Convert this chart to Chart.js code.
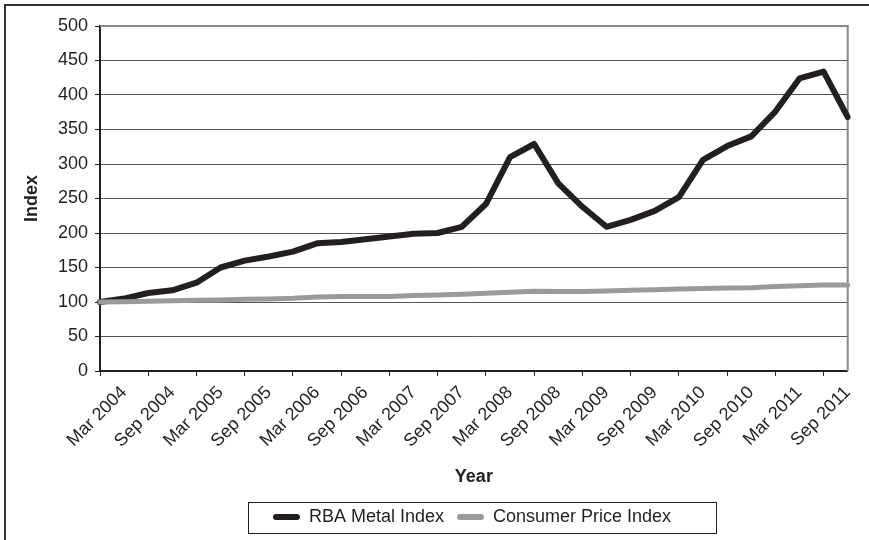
<!DOCTYPE html>
<html>
<head>
<meta charset="utf-8">
<script src="https://cdn.jsdelivr.net/npm/chart.js@4.4.1/dist/chart.umd.min.js"></script>
<style>
  html, body { margin: 0; padding: 0; background: #fff; }
  #wrap { width: 869px; height: 540px; }
</style>
</head>
<body>
<div id="wrap"><canvas id="chart" width="869" height="540"></canvas></div>
<script>
// Quarterly categories, Mar 2004 .. Dec 2011
const quarters = [
  'Mar 2004', 'Jun 2004', 'Sep 2004', 'Dec 2004',
  'Mar 2005', 'Jun 2005', 'Sep 2005', 'Dec 2005',
  'Mar 2006', 'Jun 2006', 'Sep 2006', 'Dec 2006',
  'Mar 2007', 'Jun 2007', 'Sep 2007', 'Dec 2007',
  'Mar 2008', 'Jun 2008', 'Sep 2008', 'Dec 2008',
  'Mar 2009', 'Jun 2009', 'Sep 2009', 'Dec 2009',
  'Mar 2010', 'Jun 2010', 'Sep 2010', 'Dec 2010',
  'Mar 2011', 'Jun 2011', 'Sep 2011', 'Dec 2011',
];

const rbaMetal = [
  100, 105, 113, 117, 128, 150, 160, 166,
  173, 185, 187, 191, 195, 199, 200, 209,
  242, 310, 329, 272, 238, 209, 219, 232,
  252, 306, 326, 340, 376, 424, 434, 368,
];

const cpi = [
  100, 100.5, 101, 101.7, 102.4, 103, 104, 104.5,
  105.4, 107.1, 107.9, 107.9, 108, 109.3, 110.1, 111.1,
  112.6, 114.2, 115.5, 115.2, 115.3, 115.9, 117, 117.6,
  118.7, 119.4, 120.3, 120.7, 122.6, 123.7, 124.5, 124.5,
];

const yMin = 0;
const yMax = 500;
const yStep = 50;

const COLOR = {
  ink:    '#231f20',
  rba:    '#231f20',
  cpi:    '#9a9a9a',
  grid:   '#555555',
  frame:  '#8a8a8a',
  outer:  '#333333',
};
const FONT = '"Liberation Sans", Arial, sans-serif';

// Fundo branco, moldura externa, borda da área do gráfico e caixa da legenda
const decorPlugin = {
  id: 'decor',
  afterLayout(chart) {
    const lg = chart.legend;
    lg.left += 45;
    lg.right += 45;
  },
  beforeDraw(chart) {
    const ctx = chart.ctx;
    ctx.save();
    ctx.fillStyle = '#fff';
    ctx.fillRect(0, 0, chart.width, chart.height);
    ctx.strokeStyle = COLOR.outer;
    ctx.lineWidth = 2;
    ctx.beginPath();
    ctx.moveTo(5, chart.height);
    ctx.lineTo(5, 5);
    ctx.lineTo(chart.width, 5);
    ctx.stroke();
    ctx.restore();
  },
  beforeDatasetsDraw(chart) {
    const {ctx, chartArea: a} = chart;
    ctx.save();
    ctx.strokeStyle = COLOR.frame;
    ctx.lineWidth = 2;
    ctx.beginPath();
    ctx.moveTo(a.left, a.top);
    ctx.lineTo(a.right, a.top);
    ctx.lineTo(a.right, a.bottom);
    ctx.stroke();
    ctx.restore();
  },
  afterDraw(chart) {
    const lg = chart.legend;
    const p = lg.options.labels.padding;
    const lw = lg.lineWidths[0];
    const rowStart = (lg.left + p + lg.right - lw) / 2;
    const rowEnd = rowStart + lw - p;
    const cy = lg.top + p + 9;
    const ctx = chart.ctx;
    ctx.save();
    ctx.strokeStyle = COLOR.ink;
    ctx.lineWidth = 1;
    ctx.strokeRect(Math.round(rowStart - 25) + 0.5, Math.round(cy - 15.5) + 0.5,
                   Math.round(rowEnd - rowStart + 70), 31);
    ctx.restore();
  },
};

new Chart(document.getElementById('chart').getContext('2d'), {
  type: 'line',
  data: {
    labels: quarters,
    datasets: [
      {
        label: 'RBA Metal Index',
        data: rbaMetal,
        borderColor: COLOR.rba,
        backgroundColor: COLOR.rba,
        borderWidth: 6,
        pointRadius: 0,
        tension: 0,
        borderCapStyle: 'round',
        borderJoinStyle: 'round',
        order: 1,
      },
      {
        label: 'Consumer Price Index',
        data: cpi,
        borderColor: COLOR.cpi,
        backgroundColor: COLOR.cpi,
        borderWidth: 5,
        pointRadius: 0,
        tension: 0,
        borderCapStyle: 'round',
        borderJoinStyle: 'round',
        order: 0,
      },
    ],
  },
  options: {
    responsive: false,
    animation: false,
    layout: { padding: { left: 0, top: 26, right: 15, bottom: 4 } },
    plugins: {
      tooltip: { enabled: false },
      legend: {
        display: true,
        position: 'bottom',
        labels: {
          color: COLOR.ink,
          font: { family: FONT, size: 18 },
          boxWidth: 27,
          boxHeight: 6,
          useBorderRadius: true,
          borderRadius: 3,
          padding: 13,
          sort: (a, b) => a.datasetIndex - b.datasetIndex,
          generateLabels(chart) {
            return Chart.defaults.plugins.legend.labels.generateLabels(chart)
              .map(item => Object.assign(item, { lineWidth: 0, strokeStyle: 'rgba(0,0,0,0)' }));
          },
        },
      },
    },
    scales: {
      x: {
        type: 'category',
        offset: false,
        afterFit(scale) { scale.height = 124; },
        title: {
          display: true,
          text: 'Year',
          color: COLOR.ink,
          font: { family: FONT, size: 18, weight: 'bold' },
          padding: { top: 0, bottom: 7 },
        },
        border: { display: true, color: COLOR.ink, width: 2 },
        grid: {
          drawOnChartArea: false,
          drawTicks: true,
          tickLength: 5,
          tickWidth: 1,
          tickColor: ctx => (ctx.index % 2 === 0 ? COLOR.ink : 'rgba(0,0,0,0)'),
        },
        ticks: {
          autoSkip: false,
          minRotation: 45,
          maxRotation: 45,
          padding: 6,
          labelOffset: 24,
          color: COLOR.ink,
          font: { family: FONT, size: 18 },
          callback(value, index) { return index % 2 === 0 ? quarters[index] : ''; },
        },
      },
      y: {
        min: yMin,
        max: yMax,
        afterFit(scale) { scale.width = 100; },
        title: {
          display: true,
          text: 'Index',
          color: COLOR.ink,
          font: { family: FONT, size: 18, weight: 'bold' },
          padding: { top: 21, bottom: 0 },
        },
        border: { display: true, color: COLOR.ink, width: 2 },
        grid: {
          color: COLOR.grid,
          lineWidth: 1,
          drawTicks: true,
          tickLength: 5,
          tickColor: COLOR.ink,
        },
        ticks: {
          stepSize: yStep,
          padding: 7,
          color: COLOR.ink,
          font: { family: FONT, size: 18 },
        },
      },
    },
  },
  plugins: [decorPlugin],
});
</script>
</body>
</html>
